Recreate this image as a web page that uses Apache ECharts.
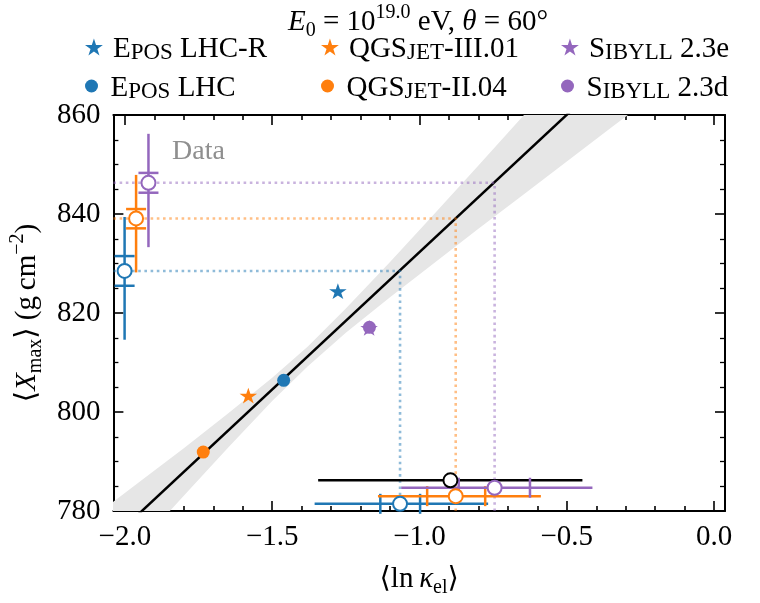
<!DOCTYPE html>
<html>
<head>
<meta charset="utf-8">
<script src="https://cdn.jsdelivr.net/npm/echarts@6/dist/echarts.min.js"></script>
<style>
  html, body { margin: 0; padding: 0; background: #fff; }
  #chart { width: 760px; height: 603px; }
</style>
</head>
<body>
<div id="chart"></div>
<script>
// ---- axis ranges and ticks ----
const X_MIN = -2.039, X_MAX = 0.037;
const Y_MIN = 780, Y_MAX = 860;
const xMajorTicks = [-2.0, -1.5, -1.0, -0.5, 0.0];
const xMinorTicks = [-1.9, -1.8, -1.7, -1.6, -1.4, -1.3, -1.2, -1.1, -0.9, -0.8, -0.7, -0.6, -0.4, -0.3, -0.2, -0.1];

// ---- hadronic-model predictions ----
const modelNames = ['EPOS LHC-R', 'QGSJET-III.01', 'SIBYLL 2.3e', 'EPOS LHC', 'QGSJET-II.04', 'SIBYLL 2.3d'];
const modelLnK   = [-1.277, -1.581, -1.171, -1.461, -1.734, -1.170];
const modelXmax  = [824.4, 803.3, 817.0, 806.4, 791.9, 817.1];

// ---- linear fit with its uncertainty band ----
const fitLnK  = [-2.10, -0.20];
const fitXmax = [771.25, 876.7];
const bandLnK  = [-2.10, -1.95, -1.80, -1.65, -1.50, -1.38, -1.25, -1.10, -0.95, -0.80, -0.65, -0.50, -0.35, -0.20];
const bandLow  = [763.4, 773.3, 783.1, 792.8, 802.2, 809.2, 816.0, 823.2, 830.1, 837.0, 843.8, 850.6, 857.4, 864.2];
const bandHigh = [779.1, 785.9, 792.7, 799.7, 806.9, 813.2, 820.9, 830.3, 840.0, 849.8, 859.7, 869.5, 879.4, 889.3];

// ---- measured <Xmax> (drawn at the left edge) ----
const dataModels  = ['EPOS LHC', 'QGSJET-II.04', 'SIBYLL 2.3d'];
const dataLnK     = [-2.001, -1.962, -1.920];
const dataXmax    = [828.5, 839.1, 846.3];
const dataStatLo  = [825.5, 837.1, 844.3];
const dataStatHi  = [831.5, 841.0, 848.3];
const dataTotLo   = [814.6, 828.2, 833.3];
const dataTotHi   = [839.4, 847.9, 856.2];

// ---- inferred <ln kappa_el> per model (drawn near the bottom) ----
const inferLnK    = [-1.066, -0.877, -0.745];
const inferRowY   = [781.45, 783.0, 784.7];
const inferStatLo = [-1.133, -0.974, -0.867];
const inferStatHi = [-0.998, -0.777, -0.625];
const inferTotLo  = [-1.356, -1.141, -1.062];
const inferTotHi  = [-0.767, -0.588, -0.413];

// ---- combined result ----
const combLnK = -0.895, combRowY = 786.2, combLo = -1.344, combHi = -0.447;

const COLORS = { EPOS: '#1f77b4', QGSJET: '#ff7f0e', SIBYLL: '#9467bd' };
const dataColors = [COLORS.EPOS, COLORS.QGSJET, COLORS.SIBYLL];
const modelColors = [COLORS.EPOS, COLORS.QGSJET, COLORS.SIBYLL, COLORS.EPOS, COLORS.QGSJET, COLORS.SIBYLL];
const STAR = 'path://M0,-1L0.224,-0.308L0.951,-0.309L0.362,0.118L0.588,0.809L0,0.381L-0.588,0.809L-0.362,0.118L-0.951,-0.309L-0.224,-0.308Z';
const modelSymbols = [STAR, STAR, STAR, 'circle', 'circle', 'circle'];

const FONT = '"Liberation Serif", "DejaVu Serif", serif';
const FS = 29;

function mathRich(size) {
  const base = { fontFamily: FONT, fontWeight: 'normal', color: '#000' };
  return {
    n:  Object.assign({ fontSize: size, lineHeight: 38 }, base),
    i:  Object.assign({ fontSize: size, fontStyle: 'italic', lineHeight: 38 }, base),
    sb: Object.assign({ fontSize: Math.round(size * 0.7), lineHeight: 21, verticalAlign: 'bottom' }, base),
    sp: Object.assign({ fontSize: Math.round(size * 0.7), lineHeight: 21, verticalAlign: 'top' }, base)
  };
}

// small-caps legend labels
const legendText = {
  'EPOS LHC-R':    '{c|E}{s|POS}{c| LHC-R}',
  'EPOS LHC':      '{c|E}{s|POS}{c| LHC}',
  'QGSJET-III.01': '{c|QGS}{s|JET}{c|-III.01}',
  'QGSJET-II.04':  '{c|QGS}{s|JET}{c|-II.04}',
  'SIBYLL 2.3e':   '{c|S}{s|IBYLL}{c| 2.3e}',
  'SIBYLL 2.3d':   '{c|S}{s|IBYLL}{c| 2.3d}'
};
const legendRich = {
  c: { fontFamily: FONT, fontSize: FS, lineHeight: 34, verticalAlign: 'bottom', color: '#000' },
  s: { fontFamily: FONT, fontSize: 23, lineHeight: 30, verticalAlign: 'bottom', color: '#000' }
};
const legendCols = [85, 321, 561];
const legendRows = [35, 74];
const legendLayout = [
  ['EPOS LHC-R', 0, 0], ['EPOS LHC', 0, 1],
  ['QGSJET-III.01', 1, 0], ['QGSJET-II.04', 1, 1],
  ['SIBYLL 2.3e', 2, 0], ['SIBYLL 2.3d', 2, 1]
];

const fmtX = v => (v < 0 ? '\u2212' : '') + Math.abs(v).toFixed(1);

const chart = echarts.init(document.getElementById('chart'), null, { renderer: 'canvas' });

const series = [];

// uncertainty band of the fit
series.push({
  type: 'custom', name: 'band', z: 1, clip: true, silent: true,
  data: [[bandLnK[0], bandLow[0]]],
  renderItem: (params, api) => {
    const pts = [];
    for (let i = 0; i < bandLnK.length; i++) pts.push(api.coord([bandLnK[i], bandHigh[i]]));
    for (let i = bandLnK.length - 1; i >= 0; i--) pts.push(api.coord([bandLnK[i], bandLow[i]]));
    return { type: 'polygon', shape: { points: pts }, style: { fill: '#e6e6e6' } };
  }
});

// fit line
series.push({
  type: 'line', name: 'fit', z: 2, silent: true, symbol: 'none', clip: true,
  data: fitLnK.map((x, i) => [x, fitXmax[i]]),
  lineStyle: { color: '#000', width: 2.5 }
});

// dotted guides: measured Xmax -> fit -> inferred ln kappa
dataModels.forEach((m, i) => {
  series.push({
    type: 'line', name: 'guide ' + m, z: 3, silent: true, symbol: 'none',
    data: [[X_MIN, dataXmax[i]], [inferLnK[i], dataXmax[i]], [inferLnK[i], Y_MIN]],
    lineStyle: { color: dataColors[i], width: 2.6, opacity: 0.5, type: [2.6, 3.6], cap: 'butt' }
  });
});

// model predictions
modelNames.forEach((m, i) => {
  series.push({
    type: 'scatter', name: m, z: 4,
    symbol: modelSymbols[i],
    symbolSize: modelSymbols[i] === 'circle' ? 13 : [17.5, 16.6],
    symbolKeepAspect: true,
    data: [[modelLnK[i], modelXmax[i]]],
    itemStyle: { color: modelColors[i], opacity: 1 }
  });
});

// vertical error bars of the measurements
function vBar(color, rows) {
  return {
    type: 'custom', z: 5, silent: true, data: rows,
    renderItem: (params, api) => {
      const x = api.value(0);
      const a = api.coord([x, api.value(1)]), b = api.coord([x, api.value(2)]);
      const c1 = api.coord([x, api.value(3)]), c2 = api.coord([x, api.value(4)]);
      const st = { stroke: color, lineWidth: 2.5 };
      return { type: 'group', children: [
        { type: 'line', shape: { x1: a[0], y1: a[1], x2: b[0], y2: b[1] }, style: st },
        { type: 'line', shape: { x1: c1[0] - 10, y1: c1[1], x2: c1[0] + 10, y2: c1[1] }, style: st },
        { type: 'line', shape: { x1: c2[0] - 10, y1: c2[1], x2: c2[0] + 10, y2: c2[1] }, style: st }
      ]};
    }
  };
}
// horizontal error bars of the inferred values
function hBar(color, rows, caps) {
  return {
    type: 'custom', z: 5, silent: true, data: rows,
    renderItem: (params, api) => {
      const y = api.value(0);
      const a = api.coord([api.value(1), y]), b = api.coord([api.value(2), y]);
      const st = { stroke: color, lineWidth: 2.5 };
      const children = [{ type: 'line', shape: { x1: a[0], y1: a[1], x2: b[0], y2: b[1] }, style: st }];
      if (caps) {
        const c1 = api.coord([api.value(3), y]), c2 = api.coord([api.value(4), y]);
        children.push({ type: 'line', shape: { x1: c1[0], y1: c1[1] - 10, x2: c1[0], y2: c1[1] + 10 }, style: st });
        children.push({ type: 'line', shape: { x1: c2[0], y1: c2[1] - 10, x2: c2[0], y2: c2[1] + 10 }, style: st });
      }
      return { type: 'group', children };
    }
  };
}

series.push(hBar('#000', [[combRowY, combLo, combHi]], false));
dataModels.forEach((m, i) => {
  series.push(vBar(dataColors[i], [[dataLnK[i], dataTotLo[i], dataTotHi[i], dataStatLo[i], dataStatHi[i]]]));
  series.push(hBar(dataColors[i], [[inferRowY[i], inferTotLo[i], inferTotHi[i], inferStatLo[i], inferStatHi[i]]], true));
});

// open circles: measurements and inferred values
dataModels.forEach((m, i) => {
  series.push({
    type: 'scatter', name: 'meas ' + m, z: 6, symbol: 'circle', symbolSize: 14,
    data: [[dataLnK[i], dataXmax[i]], [inferLnK[i], inferRowY[i]]],
    itemStyle: { color: '#fff', borderColor: dataColors[i], borderWidth: 2, opacity: 1 }
  });
});
series.push({
  type: 'scatter', name: 'combined', z: 6, symbol: 'circle', symbolSize: 14,
  data: [[combLnK, combRowY]],
  itemStyle: { color: '#fff', borderColor: '#000', borderWidth: 2, opacity: 1 }
});

const tickLine = { color: '#000', width: 1.6 };
function xAxisCfg(pos, ticks, len, showLine, showLabel) {
  return {
    type: 'value', position: pos, min: X_MIN, max: X_MAX, gridIndex: 0,
    axisLine: { show: showLine, onZero: false, lineStyle: { color: '#000', width: 2 } },
    axisTick: { show: true, inside: true, length: len, customValues: ticks, lineStyle: tickLine },
    axisLabel: showLabel ? { show: true, customValues: ticks, formatter: fmtX, margin: 12,
      fontFamily: FONT, fontSize: FS, color: '#000' } : { show: false },
    splitLine: { show: false }, minorTick: { show: false }
  };
}
function yAxisCfg(pos, showLabel) {
  const cfg = {
    type: 'value', position: pos, min: Y_MIN, max: Y_MAX, interval: 20,
    axisLine: { show: true, onZero: false, lineStyle: { color: '#000', width: 2 } },
    axisTick: { show: true, inside: true, length: 10, lineStyle: tickLine },
    minorTick: { show: true, splitNumber: 4, length: 5, lineStyle: { color: '#000', width: 1.3 } },
    axisLabel: showLabel ? { show: true, margin: 13, fontFamily: FONT, fontSize: FS, color: '#000' } : { show: false },
    splitLine: { show: false }, minorSplitLine: { show: false }
  };
  if (showLabel) {
    cfg.name = '{n|\u27E8}{i|X}{sb|max}{n|\u27E9 (g\u2009cm}{sp|\u22122}{n|)}';
    cfg.nameLocation = 'middle';
    cfg.nameRotate = 90;
    cfg.nameGap = 56;
    cfg.nameTextStyle = { rich: mathRich(FS) };
  }
  return cfg;
}

const xAxes = [
  xAxisCfg('bottom', xMajorTicks, 10, true, true),
  xAxisCfg('bottom', xMinorTicks, 5, false, false),
  xAxisCfg('top', xMajorTicks, 10, true, false),
  xAxisCfg('top', xMinorTicks, 5, false, false)
];
xAxes[0].name = '{n|\u27E8ln\u2009}{i|\u03BA}{sb|el}{n|\u27E9}';
xAxes[0].nameLocation = 'middle';
xAxes[0].nameGap = 49;
xAxes[0].nameTextStyle = { rich: mathRich(FS) };

const legends = legendLayout.map(([name, col, row]) => ({
  data: [{ name, icon: modelSymbols[modelNames.indexOf(name)] }],
  left: legendCols[col], top: legendRows[row],
  itemWidth: 28, itemHeight: modelSymbols[modelNames.indexOf(name)] === 'circle' ? 13 : 17,
  itemGap: 0, padding: 0, selectedMode: false,
  formatter: n => legendText[n],
  textStyle: { rich: legendRich, fontFamily: FONT, fontSize: FS }
}));

chart.setOption({
  animation: false,
  backgroundColor: '#fff',
  title: {
    text: '{i|E}{sb|0}{n| = 10}{sp|19.0}{n| eV, }{i|\u03B8}{n| = 60\u00B0}',
    left: 418, textAlign: 'center', top: 3, padding: 0,
    textStyle: { rich: mathRich(FS), fontWeight: 'normal', fontFamily: FONT, fontSize: FS }
  },
  legend: legends,
  grid: { left: 111, top: 115, width: 614, height: 402, containLabel: false },
  xAxis: xAxes,
  yAxis: [yAxisCfg('left', true), yAxisCfg('right', false)],
  graphic: [{
    type: 'text', left: 172, top: 138, silent: true,
    style: { text: 'Data', font: '28px ' + FONT, fill: '#8f8f8f' }
  }],
  series: series
});
</script>
</body>
</html>
